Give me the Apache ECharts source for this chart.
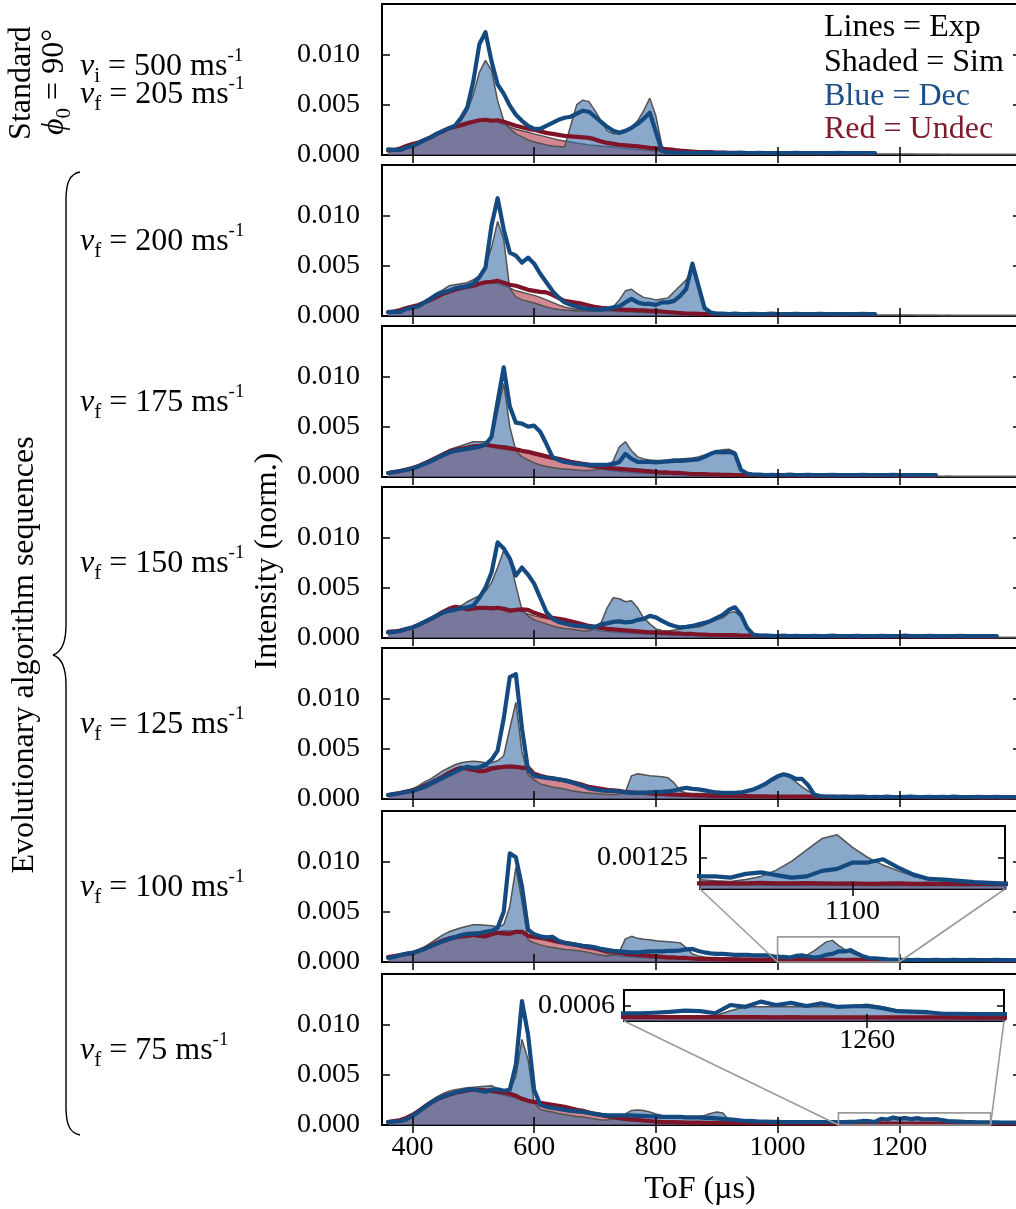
<!DOCTYPE html>
<html>
<head>
<meta charset="utf-8">
<script src="https://cdn.jsdelivr.net/npm/echarts@6/dist/echarts.min.js"></script>
<style>
  html, body { margin: 0; padding: 0; background: #fff; }
  #chart { width: 1016px; height: 1209px; }
</style>
</head>
<body>
<div id="chart"></div>
<script>
// Time-of-flight bins (µs), 10 µs apart starting at 360 µs
const tof = Array.from({ length: 105 }, (_, i) => 360 + 10 * i);

// Intensities are given in units of 1e-3 (normalised).
// Standard sequence, v_f = 205 m/s
const p1SimDec = [
  0.4,0.5,0.6,0.8,1.0,1.3,1.6,1.9,2.2,2.5,
  2.8,3.0,3.4,4.4,6.0,8.2,9.4,8.4,5.4,3.4,
  2.6,2.1,1.8,1.5,1.3,1.15,1.0,0.9,0.85,0.8,
  2.9,5.0,5.45,5.3,4.4,3.4,2.4,2.1,2.1,2.25,
  2.75,3.4,4.4,5.65,3.9,0.9,0.3,0.2,0.18,0.16,
  0.15,0.15,0.14,0.15,0.14,0.13,0.14,0.13,0.13,0.12,
  0.12,0.12,0.11,0.12,0.11,0.11,0.1,0.11,0.1,0.1,
  0.1,0.1,0.1,0.09,0.1,0.09,0.09,0.09,0.08,0.09,
  0.08,0.08,0.08,0.08,0.07,0.08,0.07,0.07,0.07,0.07,
  0.07,0.06,0.07,0.06,0.06,0.06,0.06,0.06,0.05,0.06,
  0.05,0.05,0.05,0.05,0.05];
const p1SimUndec = [
  0.4,0.5,0.6,0.85,1.0,1.2,1.5,1.8,2.1,2.4,
  2.6,2.9,3.1,3.3,3.4,3.5,3.55,3.5,3.3,3.0,
  2.75,2.55,2.4,2.25,2.1,1.95,1.8,1.65,1.5,1.4,
  1.3,1.2,1.1,1.0,0.95,0.9,0.85,0.8,0.7,0.65,
  0.6,0.55,0.5,0.45,0.4,0.35,0.3,0.25,0.2,0.2,
  0.18,0.17,0.16,0.15,0.15,0.14,0.13,0.13,0.12,0.12,
  0.12,0.11,0.11,0.11,0.1,0.1,0.1,0.1,0.1,0.09,
  0.09,0.09,0.09,0.09,0.08,0.08,0.08,0.08,0.08,0.08,
  0.07,0.07,0.07,0.07,0.07,0.07,0.07,0.06,0.06,0.06,
  0.06,0.06,0.06,0.06,0.05,0.05,0.05,0.05,0.05,0.05,
  0.05,0.05,0.05,0.05,0.05];
const p1ExpDec = [
  0.55,0.5,0.5,0.75,0.9,1.15,1.5,1.75,2.1,2.4,
  2.65,2.9,3.7,4.7,7.3,11.0,12.2,9.3,7.0,6.1,
  4.9,4.0,3.4,2.9,2.6,2.6,2.9,3.2,3.5,3.7,
  3.8,4.1,4.4,4.3,3.8,3.3,2.8,2.4,2.2,2.4,
  2.7,3.1,3.6,4.2,2.3,0.4,0.25,0.25,0.2,0.25,
  0.2,0.2,0.25,0.2,0.2,0.22,0.2,0.2,0.25,0.2,
  0.2,0.22,0.2,0.2,0.18,0.2,0.2,0.22,0.2,0.2,
  0.2,0.18,0.2,0.2,0.22,0.2,0.2,0.18,0.2,0.2,
  0.2];
const p1ExpUndec = [
  0.45,0.5,0.65,0.9,1.1,1.25,1.5,1.75,2.1,2.35,
  2.65,2.8,2.95,3.15,3.3,3.45,3.5,3.4,3.45,3.3,
  3.1,2.9,2.75,2.6,2.5,2.35,2.2,2.1,2.0,1.9,
  1.85,1.8,1.75,1.7,1.55,1.35,1.2,1.1,1.0,0.95,
  0.9,0.85,0.78,0.7,0.65,0.6,0.55,0.5,0.43,0.4,
  0.35,0.3,0.3,0.28,0.25,0.25,0.22,0.22,0.2,0.2,
  0.2,0.2,0.18,0.2,0.2,0.18,0.18,0.2,0.18,0.18,
  0.18,0.16,0.18,0.18,0.16,0.16,0.18,0.16,0.16,0.16,
  0.15];

// v_f = 200 m/s
const p2SimDec = [
  0.4,0.45,0.5,0.7,0.85,1.1,1.5,1.9,2.3,2.6,
  3.0,3.1,3.2,3.3,3.6,4.0,5.0,6.8,9.4,7.6,
  2.7,1.9,1.6,1.45,1.3,1.1,0.9,0.75,0.65,0.6,
  0.55,0.5,0.5,0.5,0.5,0.55,0.6,0.9,1.6,2.5,
  2.65,2.2,1.85,1.75,1.6,1.7,1.8,2.4,3.0,3.6,
  4.7,2.8,0.7,0.3,0.2,0.18,0.16,0.15,0.15,0.14,
  0.14,0.13,0.13,0.12,0.12,0.12,0.11,0.11,0.1,0.1,
  0.1,0.1,0.1,0.09,0.1,0.09,0.09,0.09,0.08,0.09,
  0.08,0.08,0.08,0.08,0.07,0.08,0.07,0.07,0.07,0.07,
  0.07,0.06,0.07,0.06,0.06,0.06,0.06,0.06,0.05,0.06,
  0.05,0.05,0.05,0.05,0.05];
const p2SimUndec = [
  0.4,0.5,0.6,0.75,0.9,1.1,1.4,1.7,2.0,2.3,
  2.6,2.8,3.0,3.1,3.2,3.3,3.3,3.3,3.2,3.0,
  2.8,2.5,2.35,2.2,2.05,1.85,1.6,1.35,1.1,0.9,
  0.75,0.65,0.6,0.55,0.55,0.5,0.5,0.45,0.45,0.4,
  0.4,0.35,0.35,0.3,0.3,0.3,0.25,0.25,0.25,0.2,
  0.2,0.18,0.17,0.16,0.15,0.15,0.14,0.14,0.13,0.13,
  0.12,0.12,0.11,0.11,0.1,0.1,0.1,0.1,0.1,0.09,
  0.09,0.09,0.09,0.09,0.08,0.08,0.08,0.08,0.08,0.08,
  0.07,0.07,0.07,0.07,0.07,0.07,0.07,0.06,0.06,0.06,
  0.06,0.06,0.06,0.06,0.05,0.05,0.05,0.05,0.05,0.05,
  0.05,0.05,0.05,0.05,0.05];
const p2ExpDec = [
  0.36,0.43,0.4,0.7,0.8,0.96,1.35,1.7,2.1,2.35,
  2.5,2.75,2.85,2.95,3.2,3.85,4.8,9.0,11.7,8.6,
  6.3,6.0,5.3,5.8,5.2,4.2,3.35,2.5,1.85,1.35,
  1.1,0.93,0.76,0.7,0.63,0.63,0.7,0.86,0.96,1.35,
  1.7,1.35,1.2,1.2,1.1,1.35,1.35,1.5,2.0,2.7,
  5.2,3.0,0.8,0.35,0.25,0.25,0.2,0.25,0.2,0.2,
  0.22,0.2,0.2,0.25,0.2,0.2,0.2,0.22,0.2,0.2,
  0.2,0.22,0.2,0.2,0.18,0.2,0.2,0.2,0.22,0.2,
  0.2];
const p2ExpUndec = [
  0.4,0.45,0.6,0.8,0.95,1.1,1.35,1.6,1.9,2.2,
  2.4,2.6,2.75,2.9,3.0,3.2,3.35,3.4,3.5,3.3,
  3.1,3.0,2.8,2.6,2.5,2.4,2.35,2.1,1.8,1.5,
  1.4,1.3,1.2,1.05,0.9,0.8,0.75,0.7,0.65,0.6,
  0.6,0.55,0.55,0.5,0.5,0.45,0.4,0.35,0.3,0.25,
  0.25,0.22,0.2,0.2,0.2,0.18,0.2,0.18,0.18,0.18,
  0.18,0.17,0.18,0.17,0.16,0.17,0.16,0.16,0.17,0.16,
  0.16,0.15,0.16,0.15,0.15,0.16,0.15,0.15,0.15,0.15,
  0.15];

// v_f = 175 m/s
const p3SimDec = [
  0.4,0.5,0.6,0.75,0.95,1.2,1.5,1.8,2.1,2.4,
  2.7,2.9,3.1,3.3,3.5,3.5,3.5,3.8,6.5,9.3,
  5.0,2.6,2.0,1.7,1.4,1.2,1.05,0.95,0.85,0.8,
  0.75,0.7,0.65,0.65,0.7,0.8,1.0,1.6,3.0,3.5,
  2.6,2.0,1.8,1.7,1.65,1.65,1.7,1.8,1.8,1.85,
  1.9,2.0,2.2,2.4,2.6,2.7,2.75,2.5,0.8,0.3,
  0.2,0.18,0.16,0.15,0.14,0.14,0.13,0.12,0.12,0.11,
  0.11,0.1,0.1,0.1,0.09,0.1,0.09,0.09,0.09,0.08,
  0.08,0.08,0.08,0.08,0.07,0.08,0.07,0.07,0.07,0.07,
  0.07,0.06,0.07,0.06,0.06,0.06,0.06,0.06,0.05,0.06,
  0.05,0.05,0.05,0.05,0.05];
const p3SimUndec = [
  0.4,0.5,0.6,0.75,0.95,1.15,1.4,1.7,2.0,2.3,
  2.5,2.7,2.85,3.0,3.1,3.15,3.2,3.2,3.15,3.1,
  3.0,2.8,2.6,2.4,2.25,2.1,1.95,1.8,1.7,1.6,
  1.45,1.3,1.15,1.0,0.9,0.8,0.7,0.6,0.55,0.5,
  0.45,0.4,0.4,0.35,0.35,0.3,0.3,0.25,0.25,0.22,
  0.2,0.2,0.18,0.17,0.16,0.15,0.15,0.14,0.14,0.13,
  0.13,0.12,0.12,0.12,0.11,0.11,0.1,0.1,0.1,0.1,
  0.09,0.09,0.09,0.09,0.08,0.08,0.08,0.08,0.08,0.08,
  0.07,0.07,0.07,0.07,0.07,0.07,0.07,0.06,0.06,0.06,
  0.06,0.06,0.06,0.06,0.05,0.05,0.05,0.05,0.05,0.05,
  0.05,0.05,0.05,0.05,0.05];
const p3ExpDec = [
  0.4,0.5,0.6,0.7,0.85,1.05,1.3,1.55,1.85,2.15,
  2.4,2.6,2.7,2.8,2.9,3.0,3.2,4.0,7.5,10.9,
  7.0,5.4,5.3,5.0,5.1,4.5,3.3,2.0,1.7,1.5,
  1.4,1.3,1.25,1.2,1.2,1.2,1.2,1.3,1.5,2.3,
  1.8,1.5,1.5,1.5,1.45,1.5,1.55,1.6,1.6,1.65,
  1.7,1.75,2.0,2.3,2.5,2.45,2.5,2.3,0.7,0.35,
  0.25,0.25,0.2,0.22,0.2,0.2,0.25,0.2,0.2,0.22,
  0.2,0.2,0.2,0.22,0.2,0.2,0.2,0.2,0.22,0.2,
  0.2,0.2,0.2,0.22,0.2,0.2,0.2,0.2,0.2,0.2,
  0.2];
const p3ExpUndec = [
  0.4,0.5,0.6,0.75,0.9,1.1,1.35,1.6,1.9,2.2,
  2.5,2.7,2.8,2.9,3.05,3.1,3.2,3.1,3.0,2.95,
  2.85,2.75,2.6,2.5,2.35,2.2,2.05,1.9,1.8,1.65,
  1.5,1.4,1.3,1.2,1.1,1.0,0.9,0.85,0.8,0.75,
  0.7,0.65,0.6,0.55,0.5,0.45,0.45,0.4,0.4,0.35,
  0.3,0.3,0.28,0.25,0.25,0.22,0.22,0.2,0.2,0.2,
  0.2,0.18,0.18,0.2,0.18,0.18,0.17,0.18,0.17,0.17,
  0.17,0.16,0.17,0.16,0.16,0.16,0.15,0.16,0.15,0.15,
  0.15,0.15,0.15,0.15,0.14,0.15,0.14,0.15,0.14,0.14,
  0.14];

// v_f = 150 m/s
const p4SimDec = [
  0.5,0.6,0.7,0.85,1.1,1.4,1.7,2.0,2.4,2.7,
  2.9,3.0,3.2,3.6,3.9,4.2,4.6,5.5,7.0,8.7,
  7.8,5.2,2.8,2.2,1.8,1.6,1.4,1.2,1.05,0.95,
  0.9,0.8,0.7,0.7,1.0,1.5,3.0,4.0,3.9,3.6,
  3.7,3.0,2.0,1.4,0.9,0.75,0.7,0.8,0.9,1.0,
  1.05,1.1,1.3,1.6,1.8,2.0,2.5,2.6,2.1,1.0,
  0.35,0.2,0.16,0.15,0.14,0.13,0.13,0.12,0.12,0.11,
  0.11,0.1,0.1,0.1,0.09,0.1,0.09,0.09,0.09,0.08,
  0.08,0.08,0.08,0.08,0.07,0.08,0.07,0.07,0.07,0.07,
  0.07,0.06,0.07,0.06,0.06,0.06,0.06,0.06,0.05,0.06,
  0.05,0.05,0.05,0.05,0.05];
const p4SimUndec = [
  0.5,0.55,0.65,0.8,1.0,1.3,1.6,1.9,2.2,2.5,
  2.7,2.9,3.0,3.0,3.05,3.1,3.1,3.1,3.0,3.0,
  2.9,2.8,2.6,2.4,2.2,2.05,1.95,1.85,1.7,1.5,
  1.3,1.1,1.0,0.9,0.8,0.7,0.65,0.6,0.55,0.5,
  0.45,0.45,0.4,0.4,0.35,0.35,0.3,0.3,0.3,0.25,
  0.25,0.22,0.2,0.2,0.18,0.18,0.17,0.16,0.15,0.15,
  0.14,0.13,0.13,0.12,0.12,0.12,0.11,0.11,0.1,0.1,
  0.09,0.09,0.09,0.09,0.08,0.08,0.08,0.08,0.08,0.08,
  0.07,0.07,0.07,0.07,0.07,0.07,0.07,0.06,0.06,0.06,
  0.06,0.06,0.06,0.06,0.05,0.05,0.05,0.05,0.05,0.05,
  0.05,0.05,0.05,0.05,0.05];
const p4ExpDec = [
  0.55,0.6,0.7,0.9,1.05,1.3,1.6,1.9,2.2,2.5,
  2.7,2.8,2.95,3.05,3.2,4.0,5.0,6.5,9.5,8.9,
  7.9,6.2,7.0,6.3,5.4,4.0,2.6,1.9,1.6,1.45,
  1.3,1.2,1.2,1.1,1.1,1.35,1.45,1.6,1.65,1.55,
  1.6,1.8,1.9,2.2,2.05,1.7,1.4,1.2,1.05,1.1,
  1.2,1.35,1.5,1.7,2.0,2.3,2.8,3.05,2.3,1.0,
  0.35,0.25,0.25,0.22,0.2,0.25,0.2,0.22,0.2,0.2,
  0.22,0.2,0.2,0.25,0.2,0.2,0.2,0.22,0.2,0.2,
  0.2,0.22,0.2,0.2,0.2,0.25,0.2,0.2,0.2,0.22,
  0.2,0.2,0.2,0.2,0.22,0.2,0.2,0.2,0.2,0.2,
  0.2];
const p4ExpUndec = [
  0.6,0.65,0.75,0.9,1.05,1.3,1.6,1.9,2.2,2.6,
  2.9,3.1,3.0,2.85,2.95,3.0,3.0,2.95,3.0,2.9,
  2.7,2.8,2.85,2.8,2.5,2.3,2.1,2.0,1.9,1.8,
  1.65,1.5,1.35,1.2,1.1,1.0,0.9,0.85,0.8,0.75,
  0.7,0.65,0.6,0.55,0.55,0.5,0.5,0.45,0.45,0.4,
  0.4,0.35,0.35,0.3,0.3,0.3,0.28,0.28,0.25,0.25,
  0.25,0.22,0.22,0.2,0.2,0.2,0.2,0.18,0.2,0.18,
  0.18,0.18,0.18,0.17,0.18,0.17,0.17,0.17,0.16,0.17,
  0.16,0.16,0.16,0.16,0.15,0.16,0.15,0.15,0.15,0.15,
  0.15,0.15,0.15,0.14,0.15,0.14,0.14,0.14,0.14,0.14,
  0.14];

// v_f = 125 m/s
const p5SimDec = [
  0.4,0.5,0.6,0.8,1.0,1.3,1.7,2.0,2.4,2.8,
  3.1,3.4,3.6,3.7,3.75,3.7,3.6,3.6,3.8,4.3,
  7.0,9.6,4.7,2.4,1.9,1.5,1.35,1.2,1.1,1.0,
  0.85,0.75,0.65,0.6,0.55,0.5,0.45,0.45,0.5,0.7,
  2.3,2.5,2.4,2.3,2.25,2.2,2.1,1.6,0.8,0.6,
  0.55,0.55,0.55,0.5,0.5,0.5,0.5,0.55,0.6,0.7,
  0.9,1.2,1.5,1.9,2.2,2.4,2.2,1.7,1.2,0.8,
  0.4,0.25,0.18,0.15,0.14,0.13,0.12,0.12,0.11,0.11,
  0.1,0.1,0.1,0.09,0.1,0.09,0.09,0.09,0.08,0.08,
  0.08,0.08,0.07,0.08,0.07,0.07,0.07,0.07,0.06,0.07,
  0.06,0.06,0.06,0.06,0.06];
const p5SimUndec = [
  0.4,0.5,0.6,0.8,1.0,1.2,1.5,1.8,2.1,2.4,
  2.6,2.8,2.9,3.0,3.1,3.15,3.2,3.2,3.3,3.3,
  3.3,3.3,3.2,2.7,2.4,2.2,2.1,2.0,1.9,1.8,
  1.7,1.6,1.5,1.3,1.1,1.0,0.85,0.75,0.7,0.65,
  0.6,0.55,0.5,0.45,0.42,0.4,0.36,0.33,0.3,0.28,
  0.26,0.24,0.22,0.21,0.2,0.19,0.18,0.17,0.16,0.16,
  0.15,0.15,0.14,0.14,0.13,0.13,0.12,0.12,0.12,0.11,
  0.11,0.1,0.1,0.1,0.1,0.09,0.09,0.09,0.09,0.08,
  0.08,0.08,0.08,0.07,0.07,0.07,0.07,0.07,0.07,0.06,
  0.06,0.06,0.06,0.06,0.06,0.06,0.05,0.05,0.05,0.05,
  0.05,0.05,0.05,0.05,0.05];
const p5ExpDec = [
  0.4,0.5,0.6,0.7,0.8,1.0,1.2,1.5,1.8,2.1,
  2.4,2.7,3.0,3.2,3.1,3.15,3.4,3.9,4.8,8.0,
  12.1,12.4,7.0,2.9,2.3,2.2,2.1,2.05,1.95,1.85,
  1.7,1.5,1.3,1.05,0.95,0.85,0.8,0.8,0.75,0.65,
  0.6,0.6,0.6,0.65,0.7,0.7,0.75,0.85,1.0,1.1,
  1.0,0.95,0.85,0.75,0.65,0.6,0.6,0.6,0.65,0.8,
  0.95,1.2,1.5,1.9,2.25,2.45,2.3,2.0,2.0,1.4,
  0.45,0.3,0.25,0.25,0.22,0.25,0.2,0.22,0.25,0.2,
  0.22,0.2,0.25,0.2,0.2,0.22,0.25,0.2,0.2,0.22,
  0.2,0.22,0.2,0.25,0.2,0.2,0.2,0.22,0.2,0.2,
  0.22,0.2,0.2,0.2,0.2];
const p5ExpUndec = [
  0.4,0.5,0.6,0.75,0.85,1.05,1.3,1.55,1.85,2.2,
  2.6,2.9,3.1,3.0,2.9,2.75,2.8,3.0,3.1,3.2,
  3.25,3.2,3.1,3.15,2.5,2.3,2.15,2.05,1.95,1.85,
  1.7,1.55,1.4,1.2,1.1,1.0,0.9,0.85,0.8,0.7,
  0.65,0.6,0.6,0.55,0.5,0.5,0.45,0.45,0.4,0.4,
  0.38,0.36,0.35,0.33,0.32,0.3,0.3,0.3,0.28,0.28,
  0.27,0.26,0.26,0.25,0.25,0.25,0.24,0.24,0.23,0.23,
  0.23,0.22,0.22,0.22,0.22,0.21,0.21,0.21,0.2,0.2,
  0.2,0.2,0.2,0.2,0.2,0.19,0.19,0.19,0.19,0.19,
  0.18,0.18,0.18,0.18,0.18,0.18,0.18,0.17,0.17,0.17,
  0.17,0.17,0.17,0.17,0.17];

// v_f = 100 m/s
const p6SimDec = [
  0.4,0.5,0.6,0.75,0.9,1.2,1.5,1.9,2.3,2.7,
  3.0,3.2,3.4,3.55,3.7,3.7,3.65,3.6,3.5,3.7,
  5.5,9.4,6.0,2.2,1.9,1.7,1.55,1.45,1.35,1.25,
  1.2,1.15,1.05,0.95,0.8,0.7,0.6,0.7,1.0,2.3,
  2.55,2.35,2.25,2.2,2.1,2.05,2.0,1.95,1.9,1.4,
  0.8,0.6,0.5,0.45,0.45,0.4,0.4,0.4,0.38,0.38,
  0.36,0.36,0.35,0.35,0.37,0.33,0.3,0.38,0.5,0.75,
  1.1,1.55,2.0,2.15,1.65,1.25,0.95,0.72,0.5,0.4,
  0.33,0.27,0.23,0.2,0.17,0.15,0.14,0.13,0.12,0.12,
  0.11,0.11,0.1,0.1,0.1,0.09,0.09,0.09,0.08,0.08,
  0.08,0.08,0.07,0.07,0.07];
const p6SimUndec = [
  0.4,0.5,0.6,0.75,0.9,1.1,1.4,1.7,2.0,2.3,
  2.5,2.6,2.8,2.9,2.95,3.0,3.0,3.05,3.0,3.1,
  3.1,3.0,2.9,2.7,2.55,2.4,2.25,2.15,2.05,2.0,
  1.9,1.8,1.65,1.5,1.3,1.05,0.85,0.7,0.6,0.55,
  0.5,0.45,0.45,0.4,0.4,0.35,0.35,0.3,0.3,0.3,
  0.25,0.25,0.22,0.22,0.2,0.2,0.2,0.18,0.18,0.18,
  0.17,0.17,0.16,0.16,0.16,0.15,0.15,0.15,0.15,0.14,
  0.14,0.14,0.15,0.14,0.14,0.13,0.14,0.13,0.13,0.13,
  0.13,0.12,0.12,0.12,0.12,0.11,0.11,0.11,0.11,0.1,
  0.1,0.1,0.1,0.1,0.1,0.09,0.09,0.09,0.09,0.09,
  0.08,0.08,0.08,0.08,0.08];
const p6ExpDec = [
  0.4,0.5,0.7,0.8,0.9,1.1,1.3,1.55,1.8,2.05,
  2.25,2.45,2.65,2.8,2.8,2.85,3.0,3.1,3.4,5.0,
  10.8,10.4,7.5,3.2,2.75,2.55,2.45,2.5,2.1,1.9,
  1.8,1.7,1.6,1.55,1.45,1.3,1.2,1.1,1.05,1.0,
  0.95,0.95,1.0,1.05,1.05,1.05,1.1,1.1,1.15,1.25,
  1.3,1.1,0.95,0.85,0.8,0.8,0.75,0.7,0.7,0.7,
  0.65,0.65,0.65,0.6,0.5,0.5,0.45,0.6,0.66,0.55,
  0.45,0.5,0.72,0.8,1.05,1.05,1.18,0.85,0.57,0.4,
  0.37,0.32,0.27,0.24,0.21,0.22,0.2,0.22,0.2,0.2,
  0.22,0.2,0.2,0.22,0.2,0.2,0.22,0.2,0.2,0.2,
  0.22,0.2,0.2,0.2,0.2];
const p6ExpUndec = [
  0.5,0.6,0.7,0.8,0.9,1.1,1.35,1.6,1.9,2.1,
  2.3,2.45,2.55,2.6,2.7,2.6,2.55,2.75,2.9,2.85,
  2.8,3.0,3.0,2.6,2.5,2.4,2.3,2.15,2.0,1.9,
  1.8,1.7,1.55,1.45,1.35,1.2,1.1,1.0,0.9,0.8,
  0.75,0.7,0.65,0.6,0.55,0.5,0.45,0.45,0.4,0.4,
  0.35,0.3,0.3,0.3,0.28,0.28,0.26,0.26,0.25,0.25,
  0.24,0.25,0.23,0.24,0.22,0.23,0.22,0.22,0.24,0.22,
  0.22,0.23,0.22,0.21,0.22,0.2,0.21,0.22,0.2,0.21,
  0.2,0.21,0.2,0.2,0.2,0.19,0.2,0.2,0.19,0.19,
  0.19,0.19,0.18,0.19,0.18,0.18,0.18,0.18,0.18,0.17,
  0.17,0.17,0.17,0.17,0.17];

// v_f = 75 m/s
const p7SimDec = [
  0.3,0.4,0.5,0.7,1.0,1.5,2.0,2.4,2.8,3.1,
  3.35,3.5,3.6,3.7,3.75,3.8,3.85,3.9,3.6,3.4,
  3.5,4.8,8.5,6.5,2.2,1.55,1.4,1.3,1.15,1.05,
  0.95,0.85,0.8,0.7,0.6,0.5,0.5,0.6,0.8,1.1,
  1.45,1.5,1.45,1.3,1.1,0.95,0.85,0.8,0.8,0.8,
  0.8,0.85,0.95,1.15,1.3,1.2,0.5,0.35,0.3,0.25,
  0.22,0.2,0.2,0.19,0.19,0.18,0.18,0.18,0.17,0.17,
  0.17,0.17,0.17,0.16,0.15,0.14,0.14,0.15,0.15,0.15,
  0.2,0.4,0.55,0.55,0.55,0.55,0.55,0.55,0.55,0.6,
  0.65,0.55,0.42,0.36,0.32,0.28,0.25,0.23,0.22,0.22,
  0.2,0.2,0.2,0.19,0.19];
const p7SimUndec = [
  0.3,0.4,0.5,0.7,0.9,1.3,1.7,2.1,2.4,2.7,
  2.9,3.1,3.2,3.3,3.4,3.4,3.3,3.2,3.1,3.0,
  2.8,2.7,2.5,2.4,2.3,2.2,2.1,2.0,1.85,1.75,
  1.6,1.45,1.3,1.15,1.0,0.9,0.75,0.6,0.5,0.45,
  0.4,0.38,0.35,0.33,0.3,0.28,0.26,0.25,0.24,0.22,
  0.21,0.2,0.19,0.18,0.17,0.16,0.16,0.15,0.15,0.14,
  0.14,0.14,0.13,0.13,0.13,0.13,0.12,0.12,0.12,0.12,
  0.12,0.12,0.11,0.11,0.11,0.11,0.11,0.1,0.1,0.1,
  0.1,0.1,0.1,0.1,0.1,0.1,0.1,0.1,0.1,0.1,
  0.1,0.1,0.09,0.09,0.09,0.09,0.09,0.09,0.09,0.09,
  0.09,0.09,0.09,0.09,0.09];
const p7ExpDec = [
  0.3,0.35,0.4,0.55,0.9,1.3,1.75,2.2,2.55,2.8,
  3.0,3.2,3.35,3.5,3.55,3.4,3.3,3.5,3.55,3.4,
  3.5,6.0,12.3,9.0,3.5,2.0,1.8,1.7,1.6,1.5,
  1.4,1.35,1.3,1.2,1.1,1.0,0.95,0.95,0.95,0.95,
  0.95,0.9,0.9,0.85,0.85,0.8,0.8,0.8,0.8,0.75,
  0.75,0.75,0.7,0.7,0.65,0.6,0.55,0.5,0.45,0.4,
  0.38,0.35,0.35,0.32,0.32,0.3,0.3,0.3,0.3,0.3,
  0.3,0.3,0.3,0.3,0.3,0.3,0.32,0.35,0.4,0.38,
  0.3,0.62,0.55,0.75,0.62,0.7,0.58,0.68,0.55,0.57,
  0.58,0.5,0.38,0.36,0.34,0.28,0.28,0.27,0.27,0.27,
  0.26,0.25,0.25,0.25,0.25];
const p7ExpUndec = [
  0.3,0.4,0.5,0.7,1.0,1.4,1.8,2.2,2.55,2.8,
  3.0,3.2,3.3,3.45,3.5,3.5,3.45,3.4,3.3,3.2,
  3.1,2.9,2.6,2.4,2.3,2.2,2.1,2.0,1.9,1.8,
  1.65,1.5,1.4,1.25,1.1,1.0,0.9,0.8,0.7,0.6,
  0.55,0.5,0.45,0.4,0.35,0.3,0.3,0.28,0.26,0.25,
  0.24,0.23,0.22,0.22,0.21,0.2,0.2,0.2,0.19,0.19,
  0.18,0.18,0.18,0.18,0.17,0.17,0.17,0.17,0.16,0.16,
  0.16,0.16,0.16,0.16,0.16,0.15,0.15,0.15,0.15,0.15,
  0.15,0.15,0.15,0.15,0.14,0.15,0.14,0.14,0.14,0.14,
  0.14,0.14,0.14,0.14,0.14,0.14,0.13,0.13,0.13,0.13,
  0.13,0.13,0.13,0.13,0.13];

// Axis ticks and row labels
const tofTicks = [400, 600, 800, 1000, 1200];
const intensityTicks = [0, 5, 10];
const rowSpeeds = ['205', '200', '175', '150', '125', '100', '75'];

// ---------- layout & style ----------
const SERIF = '"Liberation Serif", "Times New Roman", serif';
const EXP_DEC = '#154a80';
const EXP_UNDEC = '#7e1427';
const SIM_EDGE = '#525252';
const SIM_DEC_FILL = 'rgb(60,110,165)';
const SIM_UNDEC_FILL = 'rgb(180,55,72)';
const FILL_ALPHA = 0.6;

const PLOT_LEFT = 382, PLOT_WIDTH = 639, PLOT_HEIGHT = 151;
const panelBottoms = [155, 316, 477, 638, 799, 962, 1125];
const panelData = [
  [p1SimUndec, p1SimDec, p1ExpUndec, p1ExpDec],
  [p2SimUndec, p2SimDec, p2ExpUndec, p2ExpDec],
  [p3SimUndec, p3SimDec, p3ExpUndec, p3ExpDec],
  [p4SimUndec, p4SimDec, p4ExpUndec, p4ExpDec],
  [p5SimUndec, p5SimDec, p5ExpUndec, p5ExpDec],
  [p6SimUndec, p6SimDec, p6ExpUndec, p6ExpDec],
  [p7SimUndec, p7SimDec, p7ExpUndec, p7ExpDec],
];

const grids = [], xAxes = [], yAxes = [], series = [];

function toPairs(values) { return values.map((v, i) => [tof[i], v]); }

function simSeries(g, values, fill, z) {
  return {
    type: 'line', xAxisIndex: 2 * g, yAxisIndex: 2 * g, data: toPairs(values),
    symbol: 'none', silent: true, clip: true, z: z,
    lineStyle: { color: SIM_EDGE, width: 1.5 },
    areaStyle: { color: fill, opacity: FILL_ALPHA },
  };
}
function expSeries(g, values, color, z) {
  return {
    type: 'line', xAxisIndex: 2 * g, yAxisIndex: 2 * g, data: toPairs(values),
    symbol: 'none', silent: true, clip: true, z: z,
    lineStyle: { color: color, width: 4.2, cap: 'round', join: 'round' },
  };
}

function addFrame(cfg) {
  const g = grids.length;
  const z0 = cfg.z;
  grids.push({
    left: cfg.left, top: cfg.top, width: cfg.width, height: cfg.height,
    show: true, borderColor: '#000', borderWidth: 2,
    backgroundColor: cfg.bg, z: z0, containLabel: false, outerBoundsMode: 'none',
  });
  const tick = { show: true, inside: true, length: cfg.tickLen, lineStyle: { color: '#000', width: 1.5 } };
  const label = { fontFamily: SERIF, fontSize: 28, color: '#000' };
  ['bottom', 'top'].forEach((pos, k) => xAxes.push({
    gridIndex: g, type: 'value', position: pos, min: cfg.xMin, max: cfg.xMax, z: z0 + 6,
    axisLine: { show: false }, splitLine: { show: false },
    axisTick: Object.assign({ customValues: cfg.xTicks }, tick),
    axisLabel: Object.assign({
      show: k === 0 && cfg.xLabels, customValues: cfg.xTicks, margin: cfg.xMargin,
      formatter: (v) => String(v),
    }, label),
  }));
  ['left', 'right'].forEach((pos, k) => yAxes.push({
    gridIndex: g, type: 'value', position: pos, min: 0, max: cfg.yMax, z: z0 + 6,
    axisLine: { show: false }, splitLine: { show: false },
    axisTick: Object.assign({ customValues: cfg.yTickMarks }, tick),
    axisLabel: Object.assign({
      show: k === 0, customValues: cfg.yLabels, margin: cfg.yMargin,
      formatter: (v) => (v / 1000).toFixed(cfg.yDigits),
    }, label),
  }));
  const [su, sd, eu, ed] = cfg.data;
  series.push(
    simSeries(g, su, SIM_UNDEC_FILL, z0 + 1),
    simSeries(g, sd, SIM_DEC_FILL, z0 + 2),
    expSeries(g, eu, EXP_UNDEC, z0 + 3),
    expSeries(g, ed, EXP_DEC, z0 + 4),
  );
  return g;
}

// Seven stacked panels sharing the ToF axis
panelBottoms.forEach((bottom, i) => addFrame({
  left: PLOT_LEFT, top: bottom - PLOT_HEIGHT, width: PLOT_WIDTH, height: PLOT_HEIGHT,
  xMin: 350, xMax: 1400, yMax: 15, xTicks: tofTicks, xLabels: i === panelBottoms.length - 1, xMargin: 9,
  yTickMarks: [5, 10], yLabels: intensityTicks, yMargin: 22, yDigits: 3,
  tickLen: 8, z: 0, bg: 'transparent', data: panelData[i],
}));

// Magnified views of the late-arrival tails
const insets = [
  { panel: 5, left: 700, top: 826, width: 305, height: 63, xMin: 1000, xMax: 1200, yMax: 2.5,
    xTicks: [1100], yTick: 1.25, yDigits: 5, xMargin: 9, yMargin: 12 },
  { panel: 6, left: 624, top: 990, width: 380, height: 31, xMin: 1100, xMax: 1350, yMax: 1.2,
    xTicks: [1260], yTick: 0.6, yDigits: 4, xMargin: 6, yMargin: 9 },
];
const insetGrids = insets.map((c) => addFrame({
  left: c.left, top: c.top, width: c.width, height: c.height,
  xMin: c.xMin, xMax: c.xMax, yMax: c.yMax, xTicks: c.xTicks, xLabels: true, xMargin: c.xMargin,
  yTickMarks: [c.yTick], yLabels: [c.yTick], yMargin: c.yMargin, yDigits: c.yDigits,
  tickLen: 7, z: 10, bg: '#fff', data: panelData[c.panel],
}));

const chart = echarts.init(document.getElementById('chart'), null, { renderer: 'canvas' });
chart.setOption({
  animation: false,
  backgroundColor: '#fff',
  grid: grids, xAxis: xAxes, yAxis: yAxes, series: series,
});

// ---------- annotations ----------
const rich = {
  v: { fontFamily: SERIF, fontStyle: 'italic', fontSize: 32, lineHeight: 40, fill: '#000' },
  s: { fontFamily: SERIF, fontSize: 21, lineHeight: 21, verticalAlign: 'bottom', fill: '#000' },
  t: { fontFamily: SERIF, fontSize: 32, lineHeight: 40, fill: '#000' },
  p: { fontFamily: SERIF, fontSize: 19, lineHeight: 19, verticalAlign: 'top', fill: '#000' },
};
function richText(x, y, text, rotation) {
  return {
    type: 'text', x: x, y: y, rotation: rotation || 0, silent: true, z: 30,
    style: {
      text: text, rich: rich, fontFamily: SERIF, fontSize: 32, fill: '#000',
      align: rotation ? 'center' : 'left', textAlign: rotation ? 'center' : 'left',
      verticalAlign: 'middle', textVerticalAlign: 'middle',
    },
  };
}
function plainText(x, y, text, opts) {
  return {
    type: 'text', x: x, y: y, rotation: opts.rotation || 0, silent: true, z: 30,
    style: {
      text: text, fontFamily: SERIF, fontSize: opts.size || 32, fill: opts.color || '#000',
      align: opts.align || 'left', textAlign: opts.align || 'left',
      verticalAlign: 'middle', textVerticalAlign: 'middle',
    },
  };
}
const braceStroke = { stroke: '#000', lineWidth: 1.4, fill: 'none' };
function curve(x1, y1, cx1, cy1, cx2, cy2, x2, y2) {
  return { type: 'bezierCurve', silent: true, z: 30, style: braceStroke,
    shape: { x1: x1, y1: y1, cpx1: cx1, cpy1: cy1, cpx2: cx2, cpy2: cy2, x2: x2, y2: y2 } };
}
function segment(x1, y1, x2, y2, style) {
  return { type: 'line', silent: true, z: 30, style: style || braceStroke,
    shape: { x1: x1, y1: y1, x2: x2, y2: y2 } };
}

const elements = [];
// Row labels
elements.push(richText(80, 67, '{v|v}{s|i}{t| = 500 ms}{p|-1}'));
elements.push(richText(80, 95, '{v|v}{s|f}{t| = ' + rowSpeeds[0] + ' ms}{p|-1}'));
panelBottoms.slice(1).forEach((bottom, i) => {
  elements.push(richText(80, bottom - 74, '{v|v}{s|f}{t| = ' + rowSpeeds[i + 1] + ' ms}{p|-1}'));
});
elements.push(plainText(22, 83, 'Standard', { rotation: Math.PI / 2, align: 'center' }));
elements.push(richText(55, 82, '{v|ϕ}{s|0}{t| = 90°}', Math.PI / 2));
elements.push(plainText(25, 655, 'Evolutionary algorithm sequences', { rotation: Math.PI / 2, align: 'center' }));
// Curly brace grouping the evolutionary rows
elements.push(curve(80, 172, 70, 174, 66, 182, 66, 200));
elements.push(segment(66, 200, 66, 625));
elements.push(curve(66, 625, 66, 643, 62, 652, 53, 655));
elements.push(curve(53, 655, 62, 658, 66, 667, 66, 685));
elements.push(segment(66, 685, 66, 1107));
elements.push(curve(66, 1107, 66, 1125, 70, 1133, 80, 1135));
// Axis titles
elements.push(plainText(268, 561, 'Intensity (norm.)', { rotation: Math.PI / 2, align: 'center' }));
elements.push(plainText(700, 1190, 'ToF (µs)', { align: 'center' }));
// Key
elements.push(plainText(824, 28, 'Lines = Exp', {}));
elements.push(plainText(824, 63, 'Shaded = Sim', {}));
elements.push(plainText(824, 97, 'Blue = Dec', { color: '#1f4e89' }));
elements.push(plainText(824, 130, 'Red = Undec', { color: '#7d1a2b' }));

// Zoom boxes and connector lines for the insets
insets.forEach((c, k) => {
  const pg = c.panel, ig = insetGrids[k];
  const px = (g, pt) => chart.convertToPixel({ xAxisIndex: 2 * g, yAxisIndex: 2 * g }, pt);
  const a = px(pg, [c.xMin, c.yMax]);
  const b = px(pg, [c.xMax, 0]);
  const ia = px(ig, [c.xMin, 0]);
  const ib = px(ig, [c.xMax, 0]);
  const stroke = { stroke: '#9a9a9a', lineWidth: 1.6, fill: 'none' };
  elements.push({ type: 'rect', silent: true, z: 20,
    shape: { x: a[0], y: a[1], width: b[0] - a[0], height: b[1] - a[1] }, style: stroke });
  elements.push(Object.assign(segment(ia[0], ia[1], a[0], b[1], stroke), { z: 20 }));
  elements.push(Object.assign(segment(ib[0], ib[1], b[0], b[1], stroke), { z: 20 }));
});

chart.setOption({ graphic: { elements: elements } });
</script>
</body>
</html>
